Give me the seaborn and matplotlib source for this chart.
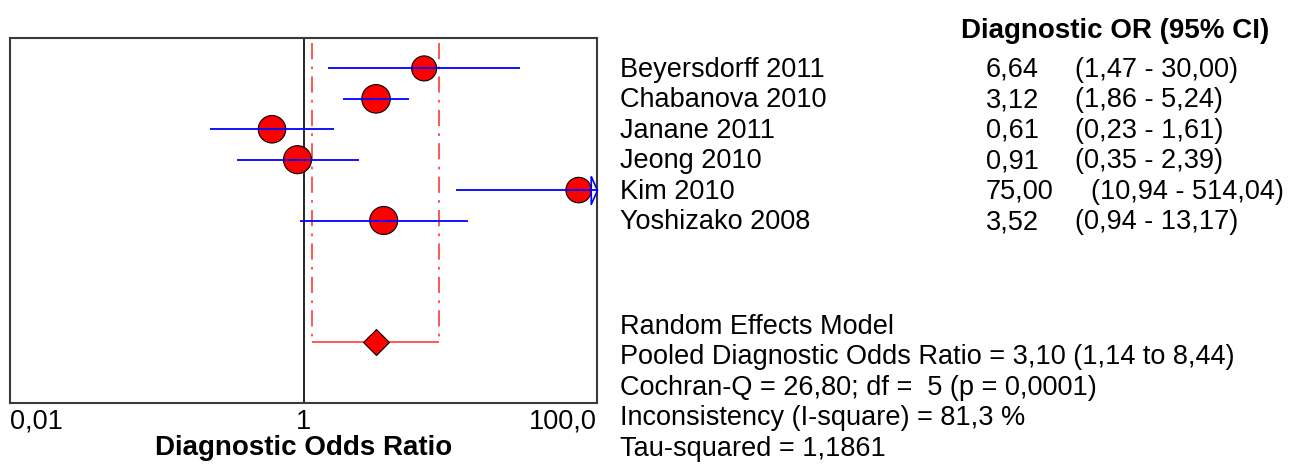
import matplotlib
matplotlib.use('Agg')
import matplotlib.pyplot as plt
import seaborn as sns
import pandas as pd
from matplotlib.transforms import blended_transform_factory

# study level data
studies = ['Beyersdorff 2011', 'Chabanova 2010', 'Janane 2011',
           'Jeong 2010', 'Kim 2010', 'Yoshizako 2008']
dor = [6.64, 3.12, 0.61, 0.91, 75.00, 3.52]
ci_low = [1.47, 1.86, 0.23, 0.35, 10.94, 0.94]
ci_high = [30.00, 5.24, 1.61, 2.39, 514.04, 13.17]
weight = [25, 28.5, 27.5, 28, 25.5, 28]   # relative weight -> marker diameter
rows = [1, 2, 3, 4, 5, 6]

or_text = ['6,64', '3,12', '0,61', '0,91', '75,00', '3,52']
ci_text = ['(1,47 - 30,00)', '(1,86 - 5,24)', '(0,23 - 1,61)',
           '(0,35 - 2,39)', '(10,94 - 514,04)', '(0,94 - 13,17)']

# pooled estimate
pooled = 3.10
pooled_low = 1.14
pooled_high = 8.44
pooled_row = 10

stats_lines = ['Random Effects Model',
               'Pooled Diagnostic Odds Ratio = 3,10 (1,14 to 8,44)',
               'Cochran-Q = 26,80; df =  5 (p = 0,0001)',
               'Inconsistency (I-square) = 81,3 %',
               'Tau-squared = 1,1861']

xticks = [0.01, 1, 100]
xticklabels = ['0,01', '1', '100,0']

sns.set_style('white')
plt.rcParams['font.family'] = ['Liberation Sans', 'DejaVu Sans']
plt.rcParams['text.color'] = 'black'
plt.rcParams['xtick.color'] = 'black'
plt.rcParams['axes.labelcolor'] = 'black'
FS = 19.5

fig = plt.figure(figsize=(12.99, 4.66), dpi=100)
ax = fig.add_axes([10 / 1299, 1 - 403 / 466, 587 / 1299, 365 / 466])
ax.set_xscale('log')

df = pd.DataFrame({'study': studies, 'dor': dor, 'lo': ci_low,
                   'hi': ci_high, 'w': weight, 'row': rows})

sizes = {w: (w / 1.389) ** 2 for w in df.w.unique()}
sns.scatterplot(data=df, x='dor', y='row', size='w', sizes=sizes,
                color='red', edgecolor='black', linewidth=0.8,
                legend=False, ax=ax, zorder=2)
ax.hlines(df.row, df.lo, df.hi, color='blue', lw=1.3, zorder=3)

ax.set_xlim(xticks[0], xticks[-1])
ax.set_ylim(12.0, 0)

# arrow where the CI runs off the scale
off = df[df.hi > xticks[-1]]
arrow = [(-0.45, 1), (0, 0), (-0.45, -1), (-0.45, 1)]
ax.plot([xticks[-1]] * len(off), off.row, marker=arrow, ms=20, ls='none',
        mfc='none', mec='blue', mew=1.2, clip_on=False, zorder=3)

# line of no effect
ax.axvline(1, color='black', lw=1.2, zorder=1)

# pooled CI bracket and diamond
red = '#ff4a4a'
ax.vlines([pooled_low, pooled_high], 0.15, pooled_row, color=red, lw=1.3,
          linestyles=[(0, (9, 4, 1.5, 4))], zorder=1)
ax.hlines(pooled_row, pooled_low, pooled_high, color=red, lw=1.3, zorder=1)
ax.plot(pooled, pooled_row, marker='D', ms=13, mfc='red', mec='black',
        mew=0.8, zorder=4)

ax.set_xticks(xticks)
ax.set_xticklabels(xticklabels)
ax.xaxis.set_minor_locator(matplotlib.ticker.NullLocator())
ax.tick_params(axis='x', length=0, pad=4, labelsize=FS)
labs = ax.get_xticklabels()
labs[0].set_ha('left')
labs[-1].set_ha('right')
ax.set_yticks([])
ax.set_ylabel('')
ax.set_xlabel('Diagnostic Odds Ratio', fontsize=20, fontweight='bold',
              labelpad=0)
for s in ax.spines.values():
    s.set_color('#3a3a3a')
    s.set_linewidth(1.5)

# text table on the right
trans = blended_transform_factory(fig.transFigure, ax.transData)
fig.text(961 / 1299, 1 - 31 / 466, 'Diagnostic OR (95% CI)', fontsize=20,
         fontweight='bold', va='center')
for r, name, o, c in zip(rows, studies, or_text, ci_text):
    ax.text(620 / 1299, r + 0.05, name, transform=trans, va='center', fontsize=FS)
    ax.text(986 / 1299, r + 0.05, o, transform=trans, va='center', fontsize=FS)
    cx = 1091 if len(o) > 4 else 1075
    ax.text(cx / 1299, r + 0.05, c, transform=trans, va='center', fontsize=FS)

for i, line in enumerate(stats_lines):
    ax.text(620 / 1299, pooled_row - 0.5 + i, line, transform=trans,
            va='center', fontsize=FS)

fig.savefig('out.png', dpi=100)
